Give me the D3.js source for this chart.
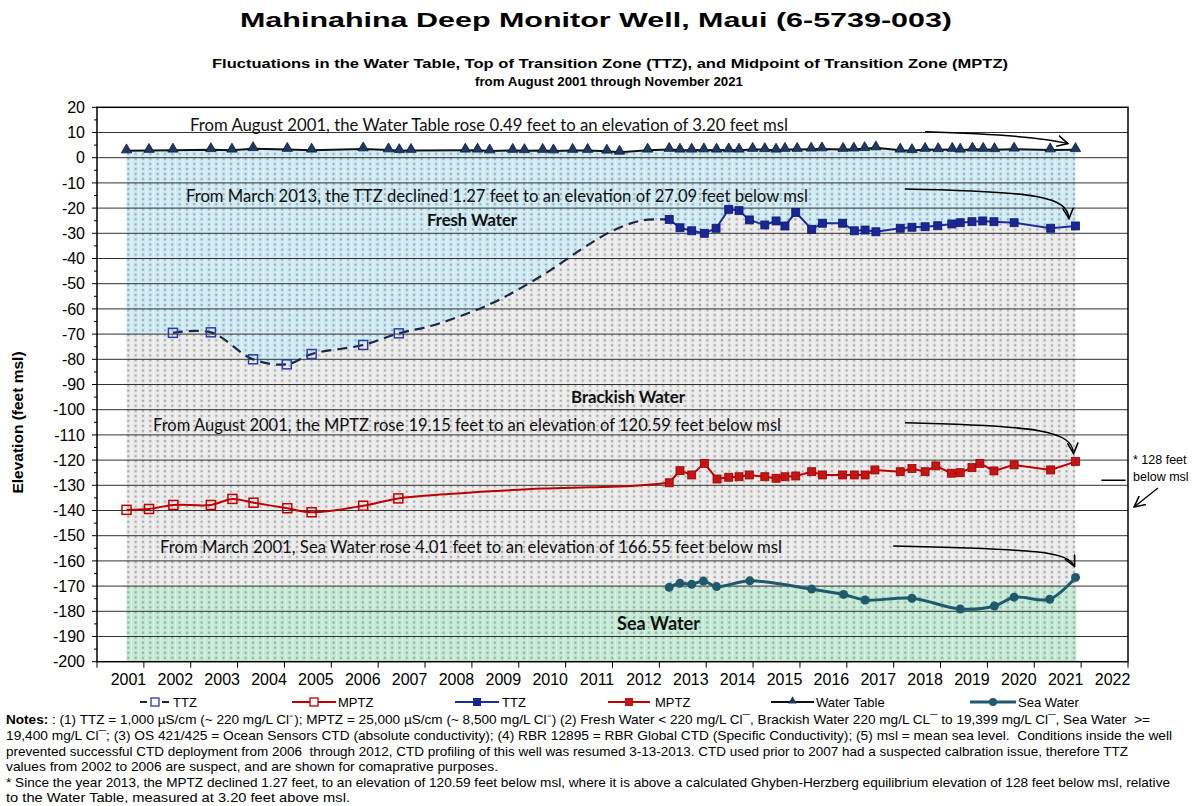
<!DOCTYPE html>
<html><head><meta charset="utf-8">
<script src="https://cdn.jsdelivr.net/npm/d3@7"></script>
<style>body{margin:0;background:#fff} svg{display:block} text{white-space:pre}</style>
</head><body><svg id="c" width="1193" height="806"></svg>
<script>
// ---------------- DATA ----------------
const yTickValues = d3.range(-200, 21, 10);
const yearLabels = d3.range(2001, 2023);

const wtDates = [2001.63,2002.11,2002.62,2003.43,2003.88,2004.33,2005.06,2005.58,2006.68,2007.22,2007.45,2007.70,2008.86,2009.12,2009.38,2009.87,2010.12,2010.51,2010.74,2011.15,2011.47,2011.88,2012.15,2012.75,2013.21,2013.44,2013.69,2013.95,2014.22,2014.48,2014.70,2014.99,2015.25,2015.49,2015.68,2015.94,2016.24,2016.47,2016.92,2017.15,2017.38,2017.62,2018.14,2018.39,2018.67,2018.95,2019.25,2019.42,2019.68,2019.91,2020.15,2020.57,2021.34,2021.88];
const wtValues = [2.71,2.9,3.0,3.2,3.0,3.6,3.3,3.0,3.5,3.1,2.8,2.9,3.0,3.0,2.7,2.9,2.8,2.9,2.7,2.9,2.9,2.6,2.2,3.0,3.3,3.0,3.0,3.1,3.0,3.1,3.0,3.3,3.2,3.0,3.3,3.3,3.4,3.5,3.3,3.4,3.6,3.9,3.0,2.8,3.3,3.2,3.3,3.0,3.4,3.3,3.2,3.4,3.1,3.2];

const ttzFillStart = [2001.63, -71];
const ttzEarlyDates = [2002.62,2003.43,2004.33,2005.05,2005.58,2006.68,2007.44];
const ttzEarlyValues = [-69.5,-69.3,-80.0,-82.0,-77.9,-74.3,-69.7];
const ttzGapDates = [2008.12,2008.76,2009.40,2009.97,2010.68,2011.38,2011.96,2012.60];
const ttzGapValues = [-66.8,-62.8,-58.0,-52.5,-44.6,-35.8,-29.4,-25.0];
const ttzLateDates = [2013.21,2013.44,2013.69,2013.96,2014.21,2014.48,2014.70,2014.92,2015.25,2015.49,2015.68,2015.91,2016.25,2016.48,2016.91,2017.16,2017.39,2017.62,2018.14,2018.39,2018.67,2018.94,2019.24,2019.42,2019.67,2019.90,2020.14,2020.57,2021.35,2021.88];
const ttzLateValues = [-24.5,-27.8,-29.0,-30.0,-28.0,-20.5,-21.0,-24.7,-26.7,-25.1,-27.1,-21.7,-28.4,-26.0,-26.0,-29.0,-28.7,-29.4,-28.0,-27.6,-27.4,-27.0,-26.3,-25.8,-25.4,-25.1,-25.4,-25.8,-28.0,-27.09];

const mptzEarlyDates = [2001.63,2002.11,2002.63,2003.43,2003.89,2004.34,2005.06,2005.58,2006.68,2007.43];
const mptzEarlyValues = [-139.74,-139.4,-137.8,-137.8,-135.4,-136.9,-139.1,-140.7,-138.1,-135.2];
const mptzGapDates = [2008.5,2009.5,2010.5,2011.5,2012.4];
const mptzGapValues = [-133.5,-132.3,-131.3,-130.8,-130.3];
const mptzLateDates = [2013.21,2013.44,2013.69,2013.96,2014.23,2014.48,2014.70,2014.92,2015.25,2015.49,2015.68,2015.91,2016.25,2016.48,2016.91,2017.16,2017.39,2017.60,2018.14,2018.39,2018.67,2018.90,2019.23,2019.42,2019.67,2019.84,2020.14,2020.57,2021.35,2021.88];
const mptzLateValues = [-129.0,-124.2,-125.9,-121.3,-127.5,-126.8,-126.6,-125.9,-126.6,-127.2,-126.6,-126.3,-124.6,-125.9,-125.9,-125.9,-125.9,-123.9,-124.6,-123.3,-124.6,-122.3,-125.2,-125.0,-123.0,-121.3,-124.3,-121.9,-123.9,-120.59];

const seaDates = [2013.21,2013.44,2013.69,2013.94,2014.22,2014.93,2016.25,2016.93,2017.39,2018.39,2019.42,2020.15,2020.57,2021.33,2021.88];
const seaValues = [-170.5,-168.9,-169.3,-168.0,-170.2,-167.9,-171.2,-173.3,-175.5,-174.8,-179.1,-177.9,-174.4,-175.2,-166.55];
const seaFillTop = -170, seaFillBottom = -200, seaFillRange = [2001.63, 2021.9];
const ghybenLevel = -128;

const legendItems = ["TTZ","MPTZ","TTZ","MPTZ","Water Table","Sea Water"];

const titleText = "Mahinahina Deep Monitor Well, Maui (6-5739-003)";
const subTitle1 = "Fluctuations in the Water Table, Top of Transition Zone (TTZ), and Midpoint of Transition Zone (MPTZ)";
const subTitle2 = "from August 2001 through November 2021";
const annWT = "From August 2001, the Water Table rose 0.49 feet to an elevation of 3.20 feet msl";
const annTTZ = "From March 2013, the TTZ declined 1.27 feet to an elevation of 27.09 feet below msl";
const annMPTZ = "From August 2001, the MPTZ rose 19.15 feet to an elevation of 120.59 feet below msl";
const annSea = "From March 2001, Sea Water rose 4.01 feet to an elevation of 166.55 feet below msl";
const notes = [
 ["Notes:", " : (1) TTZ = 1,000 µS/cm (~ 220 mg/L Cl⁻); MPTZ = 25,000 µS/cm (~ 8,500 mg/L Cl⁻) (2) Fresh Water < 220 mg/L Cl¯, Brackish Water 220 mg/L CL¯ to 19,399 mg/L Cl¯, Sea Water  >="],
 ["", "19,400 mg/L Cl¯; (3) OS 421/425 = Ocean Sensors CTD (absolute conductivity); (4) RBR 12895 = RBR Global CTD (Specific Conductivity); (5) msl = mean sea level.  Conditions inside the well"],
 ["", "prevented successful CTD deployment from 2006  through 2012, CTD profiling of this well was resumed 3-13-2013. CTD used prior to 2007 had a suspected calbration issue, therefore TTZ"],
 ["", "values from 2002 to 2006 are suspect, and are shown for comaprative purposes."],
 ["", "* Since the year 2013, the MPTZ declined 1.27 feet, to an elevation of 120.59 feet below msl, where it is above a calculated Ghyben-Herzberg equilibrium elevation of 128 feet below msl, relative"],
 ["", "to the Water Table, measured at 3.20 feet above msl."]
];
const notesWidths = [1144, 1166, 1122, 492, 1164, 344];

// ---------------- CHART ----------------
const svg = d3.select("#c");
const x = d3.scaleLinear().domain([2001, 2023]).range([97, 1128]);
const y = d3.scaleLinear().domain([-200, 20]).range([661.7, 107.3]);
const zip = (d, v) => d.map((t, i) => [t, v[i]]);

const defs = svg.append("defs");
function pattern(id, bg, dot) {
  const p = defs.append("pattern").attr("id", id).attr("patternUnits", "userSpaceOnUse")
    .attr("width", 7.33).attr("height", 5.04);
  p.append("rect").attr("width", 7.33).attr("height", 5.04).attr("fill", bg);
  p.append("rect").attr("x", 2.6).attr("y", 1.5).attr("width", 2.2).attr("height", 2.2).attr("fill", dot);
  p.append("rect").attr("x", 6.5).attr("y", 0).attr("width", 0.8).attr("height", 5.04).attr("fill", "#ffffff").attr("opacity", 0.45);
}
pattern("pFresh", "#cfebf3", "#98aeb7");
pattern("pBrack", "#ebebeb", "#a9a9a9");
pattern("pSea", "#c5ead6", "#90b0a2");
const mk = defs.append("marker").attr("id", "arr").attr("viewBox", "0 0 10 10").attr("refX", 9).attr("refY", 5)
  .attr("markerWidth", 12).attr("markerHeight", 12).attr("markerUnits", "userSpaceOnUse").attr("orient", "auto");
mk.append("path").attr("d", "M0,0.5 L9,5 L0,9.5").attr("fill", "none").attr("stroke", "#000").attr("stroke-width", 1.3);

const wtPts = zip(wtDates, wtValues);
const ttzCurvePts = [ttzFillStart, ...zip(ttzEarlyDates, ttzEarlyValues), ...zip(ttzGapDates, ttzGapValues), [ttzLateDates[0], ttzLateValues[0]]];
const ttzLatePts = zip(ttzLateDates, ttzLateValues);

const lin = d3.line().x(d => x(d[0])).y(d => y(d[1]));
const smooth = d3.line().x(d => x(d[0])).y(d => y(d[1])).curve(d3.curveCatmullRom.alpha(0.5));
const toL = s => "L" + s.slice(1);

const lastT = ttzLatePts[ttzLatePts.length - 1];
svg.append("path").attr("fill", "url(#pBrack)")
  .attr("d", smooth(ttzCurvePts) + toL(lin(ttzLatePts)) +
    `L${x(lastT[0])},${y(seaFillTop)}L${x(ttzFillStart[0])},${y(seaFillTop)}Z`);
svg.append("path").attr("fill", "url(#pFresh)")
  .attr("d", lin(wtPts) + toL(lin(ttzLatePts.slice().reverse())) + toL(smooth(ttzCurvePts.slice().reverse())) + "Z");
svg.append("rect").attr("fill", "url(#pSea)")
  .attr("x", x(seaFillRange[0])).attr("width", x(seaFillRange[1]) - x(seaFillRange[0]))
  .attr("y", y(seaFillTop)).attr("height", y(seaFillBottom) - y(seaFillTop));

svg.append("g").selectAll("line").data(yTickValues.filter(v => v > -200 && v < 20)).join("line")
  .attr("x1", x(2001)).attr("x2", x(2023)).attr("y1", d => y(d)).attr("y2", d => y(d))
  .attr("stroke", "#333").attr("stroke-width", 1);

svg.append("rect").attr("x", x(2001)).attr("y", y(20)).attr("width", x(2023) - x(2001)).attr("height", y(-200) - y(20))
  .attr("fill", "none").attr("stroke", "#000").attr("stroke-width", 1.5);

const yAx = svg.append("g");
yAx.selectAll("line.maj").data(yTickValues).join("line").attr("class", "maj")
  .attr("x1", x(2001) - 5).attr("x2", x(2001)).attr("y1", d => y(d)).attr("y2", d => y(d)).attr("stroke", "#000");
yAx.selectAll("line.min").data(yTickValues.slice(1).map(v => v - 5)).join("line").attr("class", "min")
  .attr("x1", x(2001) - 3).attr("x2", x(2001)).attr("y1", d => y(d)).attr("y2", d => y(d)).attr("stroke", "#000");
yAx.selectAll("text").data(yTickValues).join("text")
  .attr("x", 85).attr("y", d => y(d)).attr("dy", "0.36em").attr("text-anchor", "end")
  .attr("font-family", "Liberation Sans, Arial, sans-serif").attr("font-size", 16).text(d => d);

const xAx = svg.append("g");
xAx.selectAll("line").data(d3.range(2001, 2024)).join("line")
  .attr("x1", d => x(d)).attr("x2", d => x(d)).attr("y1", y(-200)).attr("y2", y(-200) + 6).attr("stroke", "#000");
xAx.selectAll("text").data(yearLabels).join("text")
  .attr("x", d => x(d + 0.5) + 8).attr("y", 685).attr("text-anchor", "middle")
  .attr("font-family", "Liberation Sans, Arial, sans-serif").attr("font-size", 16).text(d => d);

svg.append("text").attr("transform", `translate(23,${(y(-200) + y(20)) / 2 + 38}) rotate(-90)`)
  .attr("text-anchor", "middle").attr("font-family", "Liberation Sans, Arial, sans-serif")
  .attr("font-weight", "bold").attr("font-size", 15.5).text("Elevation (feet msl)");

// ---- series ----
svg.append("path").attr("d", smooth(ttzCurvePts.slice(1))).attr("fill", "none")
  .attr("stroke", "#1a2746").attr("stroke-width", 2.2).attr("stroke-dasharray", "10,6");
const mptzCurvePts = [...zip(mptzEarlyDates, mptzEarlyValues), ...zip(mptzGapDates, mptzGapValues), [mptzLateDates[0], mptzLateValues[0]]];
svg.append("path").attr("d", smooth(mptzCurvePts)).attr("fill", "none").attr("stroke", "#c00000").attr("stroke-width", 2);
svg.append("path").attr("d", lin(zip(mptzLateDates, mptzLateValues))).attr("fill", "none").attr("stroke", "#c00000").attr("stroke-width", 2);
svg.append("path").attr("d", lin(ttzLatePts)).attr("fill", "none").attr("stroke", "#1f2a9c").attr("stroke-width", 2);
const seaPts = zip(seaDates, seaValues);
svg.append("path").attr("d", smooth(seaPts)).attr("fill", "none").attr("stroke", "#1f5a6c").attr("stroke-width", 3);
svg.append("path").attr("d", lin(wtPts)).attr("fill", "none").attr("stroke", "#111").attr("stroke-width", 2);

const sq = 8;
svg.append("g").selectAll("rect").data(zip(ttzEarlyDates, ttzEarlyValues)).join("rect")
  .attr("x", d => x(d[0]) - 4.5).attr("y", d => y(d[1]) - 4.5).attr("width", 9).attr("height", 9)
  .attr("fill", "none").attr("stroke", "#2b3da3").attr("stroke-width", 1.5);
svg.append("g").selectAll("rect").data(zip(mptzEarlyDates, mptzEarlyValues)).join("rect")
  .attr("x", d => x(d[0]) - 4.5).attr("y", d => y(d[1]) - 4.5).attr("width", 9).attr("height", 9)
  .attr("fill", "none").attr("stroke", "#c00000").attr("stroke-width", 1.5);
svg.append("g").selectAll("rect").data(zip(mptzLateDates, mptzLateValues)).join("rect")
  .attr("x", d => x(d[0]) - sq / 2).attr("y", d => y(d[1]) - sq / 2).attr("width", sq).attr("height", sq)
  .attr("fill", "#c41414").attr("stroke", "#a00000").attr("stroke-width", 0.8);
svg.append("g").selectAll("rect").data(ttzLatePts).join("rect")
  .attr("x", d => x(d[0]) - sq / 2).attr("y", d => y(d[1]) - sq / 2).attr("width", sq).attr("height", sq)
  .attr("fill", "#1a2696").attr("stroke", "#101a70").attr("stroke-width", 0.8);
svg.append("g").selectAll("circle").data(seaPts).join("circle")
  .attr("cx", d => x(d[0])).attr("cy", d => y(d[1])).attr("r", 4.5).attr("fill", "#1f5a6c");
const tri = d3.symbol().type(d3.symbolTriangle).size(46);
svg.append("g").selectAll("path").data(wtPts).join("path")
  .attr("transform", d => `translate(${x(d[0])},${y(d[1]) - 1})`).attr("d", tri)
  .attr("fill", "#1f3864").attr("stroke", "#0b1a33").attr("stroke-width", 0.8);

// ---- annotations ----
const annFont = "Lato, 'Open Sans', sans-serif";
function ann(str, x0, x1, yb, size, bold) {
  svg.append("text").attr("x", x0).attr("y", yb).attr("font-family", annFont).attr("font-size", size)
    .attr("font-weight", bold ? "bold" : "normal").attr("fill", "#111")
    .attr("textLength", x1 - x0).attr("lengthAdjust", "spacingAndGlyphs").text(str);
}
ann(annWT, 190, 788, 131, 16.5);
ann(annTTZ, 186, 808, 202, 16.5);
ann(annMPTZ, 153, 781, 431, 16.5);
ann(annSea, 160, 782, 553, 16.5);
ann("Fresh Water", 427, 517, 226, 17, true);
ann("Brackish Water", 571, 685, 403, 17, true);
ann("Sea Water", 617, 700, 630, 19.5, true);

const arrows = [
  [[2018.67, 10.3], [2020.6, 9.2], [2021.3, 7.6], [2021.72, 5.6]],
  [[2018.24, -12.4], [2021.1, -13.4], [2021.7, -15.5], [2021.74, -24.2]],
  [[2018.24, -105.2], [2021.1, -106.4], [2021.8, -108.3], [2021.84, -117.4]],
  [[2017.99, -154.1], [2021.1, -155.4], [2021.7, -156.2], [2021.86, -162.2]]
];
arrows.forEach(a => {
  const p = a.map(d => [x(d[0]), y(d[1])]);
  svg.append("path").attr("d", `M${p[0]}C${p[1]} ${p[2]} ${p[3]}`).attr("fill", "none")
    .attr("stroke", "#000").attr("stroke-width", 1.5).attr("marker-end", "url(#arr)");
});
svg.append("line").attr("x1", x(2022.43)).attr("x2", x(2022.95)).attr("y1", y(ghybenLevel)).attr("y2", y(ghybenLevel))
  .attr("stroke", "#000").attr("stroke-width", 1.5);
svg.append("line").attr("x1", x(2023.64)).attr("y1", y(-131.1)).attr("x2", x(2023.13)).attr("y2", y(-138.6))
  .attr("stroke", "#000").attr("stroke-width", 1.3).attr("marker-end", "url(#arr)");
svg.append("text").attr("x", 1133).attr("y", 464).attr("font-family", "Liberation Sans, Arial, sans-serif").attr("font-size", 12.5).text("* 128 feet");
svg.append("text").attr("x", 1133).attr("y", 481).attr("font-family", "Liberation Sans, Arial, sans-serif").attr("font-size", 12.5).text("below msl");

// ---- titles ----
svg.append("text").attr("x", 596).attr("y", 27).attr("text-anchor", "middle").attr("font-family", "Liberation Sans, Arial, sans-serif")
  .attr("font-weight", "bold").attr("font-size", 19.5).attr("textLength", 712).attr("lengthAdjust", "spacingAndGlyphs").text(titleText);
svg.append("text").attr("x", 610).attr("y", 68).attr("text-anchor", "middle").attr("font-family", "Liberation Sans, Arial, sans-serif")
  .attr("font-weight", "bold").attr("font-size", 13.5).attr("textLength", 796).attr("lengthAdjust", "spacingAndGlyphs").text(subTitle1);
svg.append("text").attr("x", 609).attr("y", 86).attr("text-anchor", "middle").attr("font-family", "Liberation Sans, Arial, sans-serif")
  .attr("font-weight", "bold").attr("font-size", 13.5).attr("textLength", 268).attr("lengthAdjust", "spacingAndGlyphs").text(subTitle2);

// ---- legend ----
const lg = svg.append("g").attr("font-family", "Liberation Sans, Arial, sans-serif").attr("font-size", 13);
const ly = 702;
const legendPos = [[140, 170, 173], [292, 336, 338], [455, 499, 502], [608, 650, 655], [771, 814, 816], [970, 1016, 1018]];
legendItems.forEach((name, i) => {
  const [a, b, t] = legendPos[i];
  const g = lg.append("g");
  const c = (a + b) / 2;
  if (i === 0) {
    g.append("line").attr("x1", a).attr("x2", b).attr("y1", ly).attr("y2", ly).attr("stroke", "#1a2746").attr("stroke-width", 2).attr("stroke-dasharray", "7,4");
    g.append("rect").attr("x", c - 4).attr("y", ly - 4).attr("width", 8).attr("height", 8).attr("fill", "#fff").attr("stroke", "#2b3da3").attr("stroke-width", 1.3);
  } else if (i === 1) {
    g.append("line").attr("x1", a).attr("x2", b).attr("y1", ly).attr("y2", ly).attr("stroke", "#c00000").attr("stroke-width", 2);
    g.append("rect").attr("x", c - 4).attr("y", ly - 4).attr("width", 8).attr("height", 8).attr("fill", "#fff").attr("stroke", "#c00000").attr("stroke-width", 1.3);
  } else if (i === 2) {
    g.append("line").attr("x1", a).attr("x2", b).attr("y1", ly).attr("y2", ly).attr("stroke", "#1f2a9c").attr("stroke-width", 2);
    g.append("rect").attr("x", c - 4).attr("y", ly - 4).attr("width", 8).attr("height", 8).attr("fill", "#1a2696");
  } else if (i === 3) {
    g.append("line").attr("x1", a).attr("x2", b).attr("y1", ly).attr("y2", ly).attr("stroke", "#c00000").attr("stroke-width", 2);
    g.append("rect").attr("x", c - 4).attr("y", ly - 4).attr("width", 8).attr("height", 8).attr("fill", "#c41414");
  } else if (i === 4) {
    g.append("line").attr("x1", a).attr("x2", b).attr("y1", ly).attr("y2", ly).attr("stroke", "#111").attr("stroke-width", 2);
    g.append("path").attr("transform", `translate(${c},${ly - 1})`).attr("d", d3.symbol().type(d3.symbolTriangle).size(30)).attr("fill", "#1f3864");
  } else {
    g.append("line").attr("x1", a).attr("x2", b).attr("y1", ly).attr("y2", ly).attr("stroke", "#1f5a6c").attr("stroke-width", 3);
    g.append("circle").attr("cx", c).attr("cy", ly).attr("r", 4).attr("fill", "#1f5a6c");
  }
  g.append("text").attr("x", t).attr("y", ly + 5).text(name);
});

// ---- notes ----
const nb = [724, 740, 756, 771, 787, 802];
notes.forEach((n, i) => {
  const t = svg.append("text").attr("x", 6).attr("y", nb[i]).attr("font-family", "Liberation Sans, Arial, sans-serif").attr("font-size", 13.4);
  if (notesWidths[i]) t.attr("textLength", notesWidths[i]).attr("lengthAdjust", "spacingAndGlyphs");
  if (n[0]) t.append("tspan").attr("font-weight", "bold").text(n[0]);
  t.append("tspan").text(n[1]);
});
</script></body></html>
